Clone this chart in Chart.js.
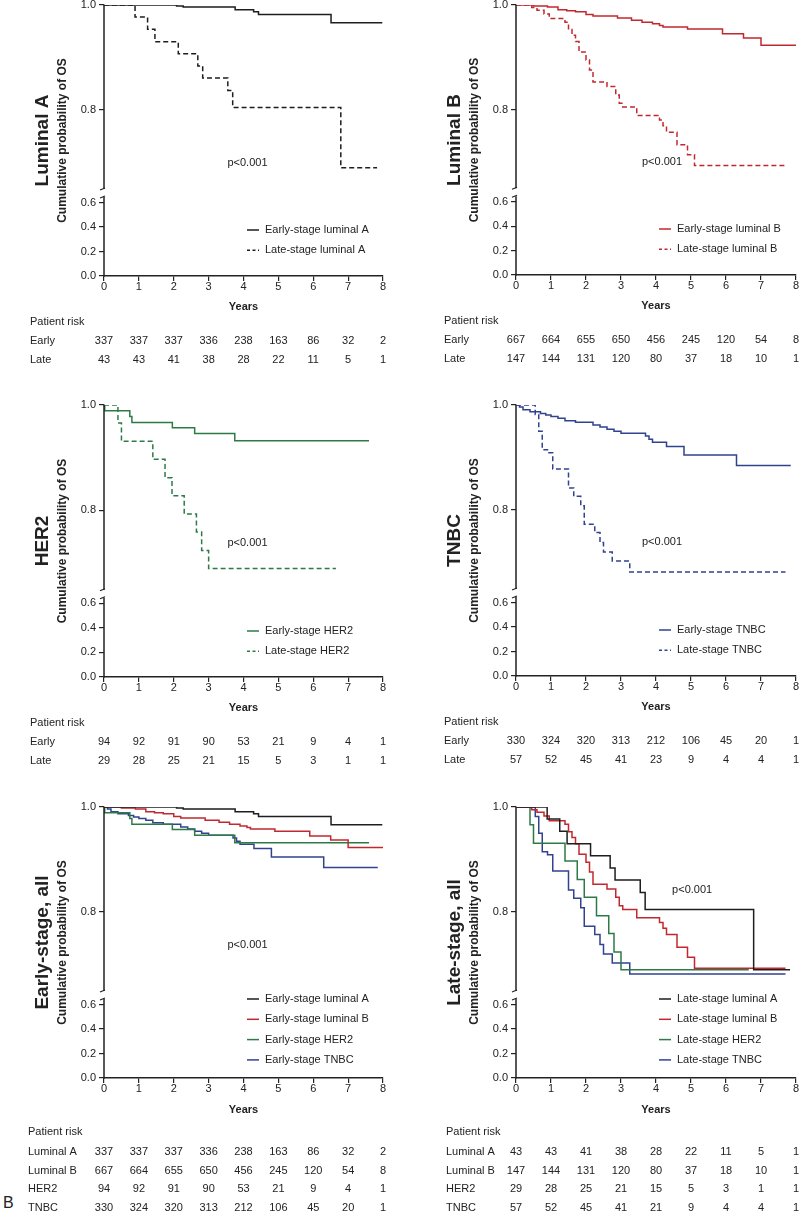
<!DOCTYPE html>
<html>
<head>
<meta charset="utf-8">
<title>Overall survival by subtype and stage</title>
<script src="https://cdn.jsdelivr.net/npm/chart.js@4.4.1/dist/chart.umd.min.js"></script>
<style>
  html, body { margin: 0; padding: 0; background: #fff; }
  body { position: relative; width: 800px; height: 1212px; overflow: hidden; }
  canvas { position: absolute; }
  #figTag { position: absolute; left: 3px; top: 1194px; font: 16px "Liberation Sans", Arial, sans-serif; color: #222; }
</style>
</head>
<body>
<div id="figTag">B</div>
<script>
Chart.defaults.font.family = '"Liberation Sans", Arial, Helvetica, sans-serif';
Chart.defaults.font.size = 11;
Chart.defaults.color = '#222';

const years = [0, 1, 2, 3, 4, 5, 6, 7, 8];
const upperTicks = [0.8, 1.0];
const lowerTicks = [0.0, 0.2, 0.4, 0.6];

// KM steps: time of each drop (years) and survival just after it,
// the last pair is the end of follow-up (flat tail)
const lumAEarlyT = [0, 2.08, 2.27, 3.76, 4.29, 4.43, 6.51, 7.98];
const lumAEarlyS = [1, 0.998, 0.996, 0.991, 0.987, 0.982, 0.966, 0.966];
const lumALateT = [0, 0.89, 1.25, 1.46, 2.13, 2.69, 2.83, 3.55, 3.69, 6.79, 7.83];
const lumALateS = [1, 0.977, 0.954, 0.930, 0.907, 0.884, 0.861, 0.837, 0.805, 0.690, 0.690];

const lumBEarlyT = [0, 0.5, 0.9, 1.2, 1.45, 1.7, 2.0, 2.2, 2.9, 3.3, 3.6, 3.9, 4.1, 4.2, 4.9, 5.9, 6.5, 7.0, 8.0];
const lumBEarlyS = [1, 0.998, 0.996, 0.991, 0.989, 0.987, 0.982, 0.979, 0.975, 0.971, 0.967, 0.964, 0.961, 0.958, 0.954, 0.945, 0.937, 0.923, 0.923];
const lumBLateT = [0, 0.45, 0.6, 0.8, 0.95, 1.4, 1.5, 1.6, 1.7, 1.8, 2.0, 2.1, 2.2, 2.6, 2.85, 2.95, 3.05, 3.45, 4.1, 4.2, 4.3, 4.6, 4.9, 5.1, 7.7];
const lumBLateS = [1, 0.995, 0.990, 0.983, 0.974, 0.967, 0.953, 0.942, 0.930, 0.910, 0.895, 0.876, 0.853, 0.844, 0.828, 0.812, 0.805, 0.789, 0.780, 0.769, 0.757, 0.733, 0.714, 0.693, 0.693];

const her2EarlyT = [0, 0.02, 0.74, 0.8, 1.96, 2.6, 3.75, 7.6];
const her2EarlyS = [1, 0.989, 0.978, 0.967, 0.957, 0.946, 0.932, 0.932];
const her2LateT = [0, 0.4, 0.5, 1.4, 1.75, 1.95, 2.3, 2.65, 2.8, 3.0, 6.65];
const her2LateS = [1, 0.966, 0.931, 0.897, 0.862, 0.828, 0.793, 0.759, 0.724, 0.690, 0.690];

const tnbcEarlyT = [0, 0.1, 0.2, 0.4, 0.7, 0.85, 1.0, 1.2, 1.4, 1.7, 2.2, 2.4, 2.6, 2.8, 3.0, 3.7, 3.8, 3.9, 4.3, 4.8, 6.3, 7.85];
const tnbcEarlyS = [1, 0.996, 0.991, 0.987, 0.984, 0.981, 0.978, 0.975, 0.970, 0.967, 0.962, 0.958, 0.954, 0.950, 0.946, 0.941, 0.935, 0.929, 0.921, 0.905, 0.885, 0.885];
const tnbcLateT = [0, 0.55, 0.65, 0.75, 0.9, 1.05, 1.5, 1.65, 1.85, 1.95, 2.25, 2.4, 2.5, 2.75, 3.25, 7.7];
const tnbcLateS = [1, 0.982, 0.950, 0.915, 0.909, 0.878, 0.842, 0.826, 0.808, 0.773, 0.757, 0.738, 0.720, 0.703, 0.682, 0.682];

// numbers at risk at 0..8 years
const riskLumAEarly = [337, 337, 337, 336, 238, 163, 86, 32, 2];
const riskLumALate = [43, 43, 41, 38, 28, 22, 11, 5, 1];
const riskLumBEarly = [667, 664, 655, 650, 456, 245, 120, 54, 8];
const riskLumBLate = [147, 144, 131, 120, 80, 37, 18, 10, 1];
const riskHer2Early = [94, 92, 91, 90, 53, 21, 9, 4, 1];
const riskHer2Late = [29, 28, 25, 21, 15, 5, 3, 1, 1];
const riskTnbcEarly = [330, 324, 320, 313, 212, 106, 45, 20, 1];
const riskTnbcLate = [57, 52, 45, 41, 23, 9, 4, 4, 1];
const riskTnbcLateAll = [57, 52, 45, 41, 21, 9, 4, 4, 1];

const ink = '#222';
const colLumA = '#1e1e1e';
const colLumB = '#c0292f';
const colHer2 = '#2e7a47';
const colTnbc = '#31438f';
const fam = Chart.defaults.font.family;

function km(t, s) {
  return t.map((v, i) => ({ x: v, y: s[i] }));
}

function curve(label, t, s, color, dashed) {
  return {
    label: label,
    data: km(t, s),
    borderColor: color,
    backgroundColor: color,
    borderWidth: 1.5,
    borderDash: dashed ? [5, 3] : [],
    stepped: 'before',   // flat to the next event time, then drop
    pointRadius: 0,
    fill: false,
    yAxisID: 'yHi'
  };
}

const smallTable = { years: 31, head: 46, row0: 65, step: 19 };
const bigTable = { years: 32, head: 54, row0: 74, step: 18.5 };

const panels = [
  { left: 0, areaL: 104, areaR: 383, areaT: 5, areaB: 276, title: 'Luminal A',
    sets: [curve('Early-stage luminal A', lumAEarlyT, lumAEarlyS, colLumA, false),
           curve('Late-stage luminal A', lumALateT, lumALateS, colLumA, true)],
    pAt: [3.54, 0.70], legendUp: 46, table: smallTable, labelX: 30,
    rows: [['Early', riskLumAEarly], ['Late', riskLumALate]] },
  { left: 400, areaL: 516, areaR: 796, areaT: 5, areaB: 275, title: 'Luminal B',
    sets: [curve('Early-stage luminal B', lumBEarlyT, lumBEarlyS, colLumB, false),
           curve('Late-stage luminal B', lumBLateT, lumBLateS, colLumB, true)],
    pAt: [3.6, 0.70], legendUp: 46, table: smallTable, labelX: 44,
    rows: [['Early', riskLumBEarly], ['Late', riskLumBLate]] },
  { left: 0, areaL: 104, areaR: 383, areaT: 405, areaB: 677, title: 'HER2',
    sets: [curve('Early-stage HER2', her2EarlyT, her2EarlyS, colHer2, false),
           curve('Late-stage HER2', her2LateT, her2LateS, colHer2, true)],
    pAt: [3.54, 0.739], legendUp: 46, table: smallTable, labelX: 30,
    rows: [['Early', riskHer2Early], ['Late', riskHer2Late]] },
  { left: 400, areaL: 516, areaR: 796, areaT: 405, areaB: 676, title: 'TNBC',
    sets: [curve('Early-stage TNBC', tnbcEarlyT, tnbcEarlyS, colTnbc, false),
           curve('Late-stage TNBC', tnbcLateT, tnbcLateS, colTnbc, true)],
    pAt: [3.6, 0.739], legendUp: 46, table: smallTable, labelX: 44,
    rows: [['Early', riskTnbcEarly], ['Late', riskTnbcLate]] },
  { left: 0, areaL: 104, areaR: 383, areaT: 807, areaB: 1078, title: 'Early-stage, all', last: true,
    sets: [curve('Early-stage luminal A', lumAEarlyT, lumAEarlyS, colLumA, false),
           curve('Early-stage luminal B', lumBEarlyT, lumBEarlyS, colLumB, false),
           curve('Early-stage HER2', her2EarlyT, her2EarlyS, colHer2, false),
           curve('Early-stage TNBC', tnbcEarlyT, tnbcEarlyS, colTnbc, false)],
    pAt: [3.54, 0.737], legendUp: 79, table: bigTable, labelX: 28,
    rows: [['Luminal A', riskLumAEarly], ['Luminal B', riskLumBEarly], ['HER2', riskHer2Early], ['TNBC', riskTnbcEarly]] },
  { left: 400, areaL: 516, areaR: 796, areaT: 807, areaB: 1078, title: 'Late-stage, all', last: true,
    sets: [curve('Late-stage luminal A', lumALateT, lumALateS, colLumA, false),
           curve('Late-stage luminal B', lumBLateT, lumBLateS, colLumB, false),
           curve('Late-stage HER2', her2LateT, her2LateS, colHer2, false),
           curve('Late-stage TNBC', tnbcLateT, tnbcLateS, colTnbc, false)],
    pAt: [4.46, 0.842], legendUp: 79, table: bigTable, labelX: 46,
    rows: [['Luminal A', riskLumALate], ['Luminal B', riskLumBLate], ['HER2', riskHer2Late], ['TNBC', riskTnbcLateAll]] }
];

// the y axis is split in two stacked scales, draw it by hand with the break marks
const axisBreak = {
  id: 'axisBreak',
  afterDraw(chart) {
    const ctx = chart.ctx;
    const hi = chart.scales.yHi, lo = chart.scales.yLo;
    const x = chart.chartArea.left;
    const gap = 4;
    ctx.save();
    ctx.strokeStyle = ink;
    ctx.lineWidth = 1.5;
    ctx.beginPath();
    ctx.moveTo(x, hi.top - 0.5);
    ctx.lineTo(x, hi.bottom - gap);
    ctx.moveTo(x, lo.top + gap);
    ctx.lineTo(x, lo.bottom + 0.75);
    ctx.stroke();
    ctx.lineWidth = 1.2;
    ctx.beginPath();
    ctx.moveTo(x - 4, hi.bottom - gap + 1);
    ctx.lineTo(x + 1, hi.bottom - gap - 1);
    ctx.moveTo(x - 4, lo.top + gap + 1);
    ctx.lineTo(x + 1, lo.top + gap - 1);
    ctx.stroke();
    ctx.restore();
  }
};

function panelText(p) {
  return {
    id: 'panelText',
    afterDraw(chart) {
      const ctx = chart.ctx;
      const area = chart.chartArea;
      const xs = chart.scales.x, hi = chart.scales.yHi;
      const midY = (area.top + area.bottom) / 2;
      ctx.save();
      ctx.fillStyle = ink;

      // rotated titles
      ctx.save();
      ctx.translate(area.left - 56, midY);
      ctx.rotate(-Math.PI / 2);
      ctx.textAlign = 'center';
      ctx.textBaseline = 'alphabetic';
      ctx.font = 'bold 19px ' + fam;
      ctx.fillText(p.title, 0, 0);
      ctx.restore();

      ctx.save();
      ctx.translate(area.left - 38, midY);
      ctx.rotate(-Math.PI / 2);
      ctx.textAlign = 'center';
      ctx.textBaseline = 'alphabetic';
      ctx.font = 'bold 12px ' + fam;
      ctx.fillText('Cumulative probability of OS', 0, 0);
      ctx.restore();

      // p value
      ctx.font = '11px ' + fam;
      ctx.textAlign = 'left';
      ctx.textBaseline = 'middle';
      ctx.fillText('p<0.001', xs.getPixelForValue(p.pAt[0]), hi.getPixelForValue(p.pAt[1]));

      // legend inside the lower part of the axis
      p.sets.forEach((ds, i) => {
        const y = area.bottom - p.legendUp + i * 20.3;
        ctx.save();
        ctx.strokeStyle = ds.borderColor;
        ctx.lineWidth = 1.5;
        ctx.setLineDash(ds.borderDash.length ? [3, 2.5] : []);
        ctx.beginPath();
        ctx.moveTo(area.left + 143, y);
        ctx.lineTo(area.left + 155, y);
        ctx.stroke();
        ctx.restore();
        ctx.fillText(ds.label, area.left + 161, y);
      });

      // x title and patients at risk
      const t = p.table;
      ctx.font = 'bold 11px ' + fam;
      ctx.textAlign = 'center';
      ctx.fillText('Years', (area.left + area.right) / 2, area.bottom + t.years);
      ctx.font = '11px ' + fam;
      ctx.textAlign = 'left';
      const lx = p.labelX;
      ctx.fillText('Patient risk', lx, area.bottom + t.head);
      p.rows.forEach((row, r) => {
        const y = area.bottom + t.row0 + r * t.step;
        ctx.textAlign = 'left';
        ctx.fillText(row[0], lx, y);
        ctx.textAlign = 'center';
        row[1].forEach((n, i) => {
          ctx.fillText(String(n), xs.getPixelForValue(years[i]), y);
        });
      });
      ctx.restore();
    }
  };
}

function drawPanel(p) {
  const canvasTop = p.areaT - 25;
  const canvasH = p.last ? 1212 - canvasTop : p.areaB + 100 - canvasTop;
  const cv = document.createElement('canvas');
  cv.width = 400;
  cv.height = canvasH;
  cv.style.left = p.left + 'px';
  cv.style.top = canvasTop + 'px';
  cv.style.width = '400px';
  cv.style.height = canvasH + 'px';
  document.body.appendChild(cv);
  const xAxisH = canvasH - (p.areaB - canvasTop);
  const yAxisW = p.areaL - p.left;
  const tickGrid = { drawOnChartArea: false, drawTicks: true, tickLength: 5, color: ink, lineWidth: 1.2 };

  new Chart(cv, {
    type: 'line',
    data: { datasets: p.sets },
    options: {
      responsive: false,
      animation: false,
      devicePixelRatio: 1,
      layout: { padding: { top: 25, left: 0, right: p.left + 400 - p.areaR, bottom: 0 } },
      plugins: { legend: { display: false }, tooltip: { enabled: false } },
      scales: {
        x: {
          type: 'linear', position: 'bottom', min: 0, max: 8,
          afterBuildTicks: s => { s.ticks = years.map(v => ({ value: v })); },
          ticks: { autoSkip: false, maxRotation: 0, padding: -1, color: ink, font: { size: 11 } },
          grid: tickGrid,
          border: { display: true, color: ink, width: 1.5 },
          afterFit: s => { s.height = xAxisH; }
        },
        yLo: {
          type: 'linear', axis: 'y', position: 'left', stack: 'os', stackWeight: 83, weight: 1,
          min: 0, max: 0.678,
          afterBuildTicks: s => { s.ticks = lowerTicks.map(v => ({ value: v })); },
          ticks: { autoSkip: false, padding: 3, color: ink, font: { size: 11 }, callback: v => Number(v).toFixed(1) },
          grid: tickGrid,
          border: { display: false },
          afterFit: s => { s.width = yAxisW; }
        },
        yHi: {
          type: 'linear', axis: 'y', position: 'left', stack: 'os', stackWeight: 188, weight: 2,
          min: 0.642, max: 1,
          afterBuildTicks: s => { s.ticks = upperTicks.map(v => ({ value: v })); },
          ticks: { autoSkip: false, padding: 3, color: ink, font: { size: 11 }, callback: v => Number(v).toFixed(1) },
          grid: tickGrid,
          border: { display: false },
          afterFit: s => { s.width = yAxisW; }
        }
      }
    },
    plugins: [axisBreak, panelText(p)]
  });
}

panels.forEach(drawPanel);
</script>
</body>
</html>
